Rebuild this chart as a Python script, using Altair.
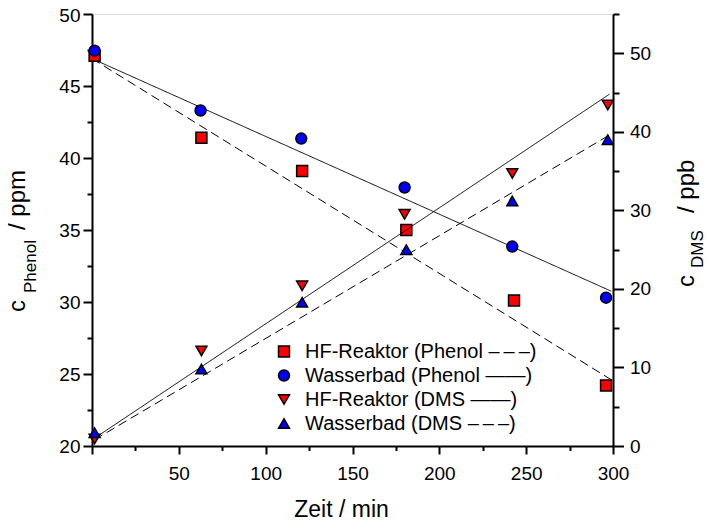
import altair as alt
import pandas as pd

FONT = "Liberation Sans"

# ---- data ----
series_names = [
    "HF-Reaktor (Phenol \u2013\u2009\u2013\u2009\u2013)",
    "Wasserbad (Phenol \u2014\u2014)",
    "HF-Reaktor (DMS \u2014\u2014)",
    "Wasserbad (DMS \u2013\u2009\u2013\u2009\u2013)",
]
series_shapes = ["square", "circle", "triangle-down", "triangle-up"]
series_fills = ["#ff0000", "#0000ff", "#ff0000", "#0000ff"]
series_strokes = ["#000000", "#000000", "#000000", "#000000"]

t_hf_phenol = [1.5, 63, 121, 181, 243, 296]
hf_phenol = [47.1, 41.4, 39.1, 35.0, 30.1, 24.2]
t_wb_phenol = [1.5, 62.5, 120.5, 180, 242, 296]
wb_phenol = [47.45, 43.3, 41.35, 37.95, 33.85, 30.3]
t_hf_dms = [1.5, 63, 121, 180, 242, 297]
hf_dms = [0.9, 12.1, 20.4, 29.5, 34.7, 43.4]
t_wb_dms = [1.5, 63, 121, 181, 242, 297]
wb_dms = [1.7, 9.8, 18.3, 25.0, 31.2, 39.0]

fit_t_phenol = [0, 299]
fit_wb_phenol = [46.9, 30.75]   # solid
fit_hf_phenol = [46.9, 24.6]    # dashed
fit_t_dms = [1.5, 298]
fit_hf_dms = [1.0, 44.8]        # solid
fit_wb_dms = [0.8, 39.6]        # dashed

x_ticks = [0, 25, 50, 75, 100, 125, 150, 175, 200, 225, 250, 275, 300]
phenol_ticks = [20, 22.5, 25, 27.5, 30, 32.5, 35, 37.5, 40, 42.5, 45, 47.5, 50]
dms_ticks = [0, 5, 10, 15, 20, 25, 30, 35, 40, 45, 50, 55]

# ---- tables ----
def pts(ts, vs, name):
    return pd.DataFrame({"t": ts, "value": vs, "series": name})

phenol_pts = pd.concat([pts(t_hf_phenol, hf_phenol, series_names[0]),
                        pts(t_wb_phenol, wb_phenol, series_names[1])])
dms_pts = pd.concat([pts(t_hf_dms, hf_dms, series_names[2]),
                     pts(t_wb_dms, wb_dms, series_names[3])])
phenol_fit = pd.concat([
    pd.DataFrame({"t": fit_t_phenol, "value": fit_wb_phenol, "style": "solid"}),
    pd.DataFrame({"t": fit_t_phenol, "value": fit_hf_phenol, "style": "dashed"}),
])
dms_fit = pd.concat([
    pd.DataFrame({"t": fit_t_dms, "value": fit_hf_dms, "style": "solid"}),
    pd.DataFrame({"t": fit_t_dms, "value": fit_wb_dms, "style": "dashed"}),
])

axis_common = dict(
    tickColor="black", tickWidth=2, domainColor="black", domainWidth=2,
    labelFont=FONT, labelFontSize=19, labelColor="black", grid=False,
    labelOverlap=False, labelFlush=False,
)

x_axis = alt.Axis(
    values=x_ticks,
    labelExpr="datum.value % 50 === 0 && datum.value > 0 ? datum.label : ''",
    tickSize={"condition": {"test": "datum.value % 50 === 0", "value": 8}, "value": 4.5},
    labelPadding=10,
    title="Zeit / min", titleFont=FONT, titleFontSize=23, titleFontWeight="normal",
    titleColor="black", titleX=249, titleY=70.5, titleBaseline="alphabetic", titleAlign="center",
    **axis_common,
)
x_enc = alt.X("t:Q", scale=alt.Scale(domain=[0, 300], nice=False, zero=False), axis=x_axis)

phenol_axis = alt.Axis(
    orient="left", values=phenol_ticks,
    labelExpr="datum.value % 5 === 0 ? datum.label : ''",
    tickSize={"condition": {"test": "datum.value % 5 === 0", "value": 9}, "value": 5},
    labelOffset={"condition": {"test": "datum.value === 50", "value": 1.5}, "value": 0},
    labelPadding=3, title=None, **axis_common,
)
dms_axis = alt.Axis(
    orient="right", values=dms_ticks,
    labelExpr="datum.value % 10 === 0 ? datum.label : ''",
    tickSize={"condition": {"test": "datum.value % 10 === 0", "value": 10.5}, "value": 6},
    labelPadding=6, title=None, **axis_common,
)
y_phenol = alt.Y("value:Q", scale=alt.Scale(domain=[20, 50], nice=False, zero=False), axis=phenol_axis)
y_dms = alt.Y("value:Q", scale=alt.Scale(domain=[0, 55], nice=False, zero=False), axis=dms_axis)

legend = alt.Legend(
    orient="none", legendX=182, legendY=327.5, title=None, padding=0,
    labelFont=FONT, labelFontSize=20, labelColor="black", labelLimit=400,
    labelOffset=11, rowPadding=4, symbolSize=120, symbolStrokeWidth=1.5,
)
shape_enc = alt.Shape("series:N", scale=alt.Scale(domain=series_names, range=series_shapes), legend=legend)
fill_enc = alt.Fill("series:N", scale=alt.Scale(domain=series_names, range=series_fills), legend=legend)
stroke_enc = alt.Stroke("series:N", scale=alt.Scale(domain=series_names, range=series_strokes), legend=legend)

dash_enc = alt.StrokeDash("style:N", scale=alt.Scale(domain=["solid", "dashed"], range=[[1, 0], [9, 5]]), legend=None)

def point_layer(df, y):
    return alt.Chart(df).mark_point(filled=True, size=120, opacity=1, strokeWidth=1.5).encode(
        x=x_enc, y=y, shape=shape_enc, fill=fill_enc, stroke=stroke_enc)

def fit_layer(df, y):
    return alt.Chart(df).mark_line(color="black", strokeWidth=1).encode(
        x=x_enc, y=y, detail="style:N", strokeDash=dash_enc)

phenol_layer = alt.layer(fit_layer(phenol_fit, y_phenol), point_layer(phenol_pts, y_phenol))
dms_layer = alt.layer(fit_layer(dms_fit, y_dms), point_layer(dms_pts, y_dms))

# ---- axis titles with subscripts (plot-area pixel positions) ----
title_parts = [
    ("c", -67.3, 298, 24), ("Phenol", -56.3, 279, 17), ("/ ppm", -67.3, 216, 24),
    ("c", 602, 273, 24), ("DMS", 611.2, 254, 17), ("/ ppb", 602, 199, 24),
]
title_layers = [
    alt.Chart(pd.DataFrame({"k": [0]})).mark_text(
        text=txt, angle=270, align="left", baseline="alphabetic", font=FONT,
        fontSize=fs, color="black").encode(x=alt.value(px), y=alt.value(py))
    for txt, px, py, fs in title_parts
]

chart = alt.layer(phenol_layer, dms_layer, *title_layers).resolve_scale(y="independent").properties(
    width=521, height=432,
    autosize=alt.AutoSizeParams(type="none"),
    padding={"left": 84, "top": 6, "right": 91, "bottom": 75},
).configure_view(stroke=None).configure(font=FONT)

chart.save("out.html", embed_options={"renderer": "svg", "actions": False})
